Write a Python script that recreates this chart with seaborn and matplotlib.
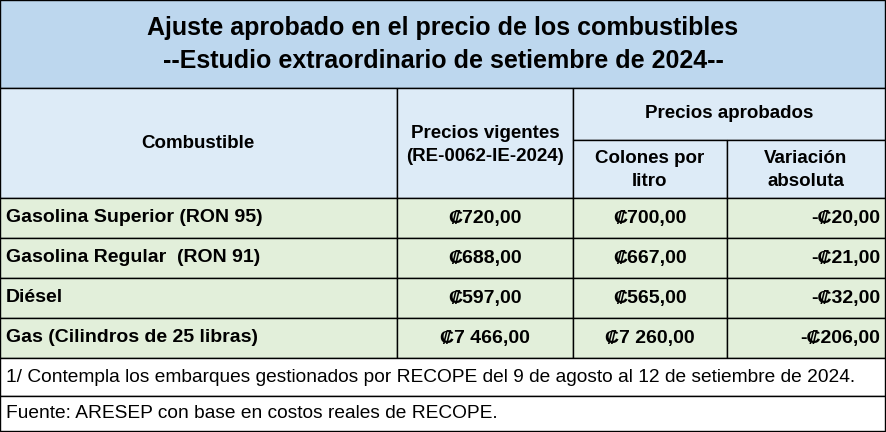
import matplotlib
matplotlib.use("Agg")
import matplotlib.pyplot as plt
from matplotlib.patches import Rectangle
import seaborn as sns

sns.set_style("white")
plt.rcParams['font.family'] = ['Liberation Sans', 'DejaVu Sans']
plt.rcParams['text.color'] = 'black'

title = ["Ajuste aprobado en el precio de los combustibles",
         "--Estudio extraordinario de setiembre de 2024--"]
combustibles = ["Gasolina Superior (RON 95)", "Gasolina Regular  (RON 91)",
                "Diésel", "Gas (Cilindros de 25 libras)"]
vigentes = ["₡720,00", "₡688,00", "₡597,00", "₡7 466,00"]
aprobados = ["₡700,00", "₡667,00", "₡565,00", "₡7 260,00"]
variacion = ["-₡20,00", "-₡21,00", "-₡32,00", "-₡206,00"]
notes = ["1/ Contempla los embarques gestionados por RECOPE del 9 de agosto al 12 de setiembre de 2024.",
         "Fuente: ARESEP con base en costos reales de RECOPE."]

W, H = 886, 432
fig = plt.figure(figsize=(W/100, H/100), dpi=100)
ax = fig.add_axes([0, 0, 1, 1])
ax.set_xlim(0, W); ax.set_ylim(H, 0); ax.axis('off')

cols = [0, 397, 573, 727, 885]
blue, hblue, green = "#BDD7EE", "#DDEBF7", "#E2EFDA"

def rect(x0, y0, x1, y1, fc):
    ax.add_patch(Rectangle((x0, y0), x1-x0, y1-y0, fc=fc, ec="black", lw=1))

rect(0, 0, 885, 88, blue)
ax.text(443, 28, title[0], ha='center', va='center', fontsize=18, fontweight='bold')
ax.text(443, 61, title[1], ha='center', va='center', fontsize=18, fontweight='bold')

rect(0, 88, 397, 198, hblue)
rect(397, 88, 573, 198, hblue)
rect(573, 88, 885, 140, hblue)
rect(573, 140, 727, 198, hblue)
rect(727, 140, 885, 198, hblue)
hk = dict(ha='center', va='center', fontsize=13.5, fontweight='bold', linespacing=1.4)
ax.text(198, 143, "Combustible", **hk)
ax.text(485, 145, "Precios vigentes\n(RE-0062-IE-2024)", **hk)
ax.text(729, 113, "Precios aprobados", **hk)
ax.text(650, 170, "Colones por\nlitro", **hk)
ax.text(806, 170, "Variación\nabsoluta", **hk)

bk = dict(va='center', fontsize=14, fontweight='bold')
for i in range(len(combustibles)):
    y0 = 198 + 40*i; y1 = y0 + 40; yc = (y0+y1)/2
    for c in range(4):
        rect(cols[c], y0, cols[c+1], y1, green)
    ax.text(6, yc, combustibles[i], ha='left', **bk)
    ax.text(485, yc, vigentes[i], ha='center', **bk)
    ax.text(650, yc, aprobados[i], ha='center', **bk)
    ax.text(880, yc, variacion[i], ha='right', **bk)

rect(0, 358, 885, 396, "white")
rect(0, 396, 885, 431, "white")
ax.text(6, 377, notes[0], ha='left', va='center', fontsize=13.8)
ax.text(6, 414, notes[1], ha='left', va='center', fontsize=13.8)

fig.savefig("out.png", dpi=100)
